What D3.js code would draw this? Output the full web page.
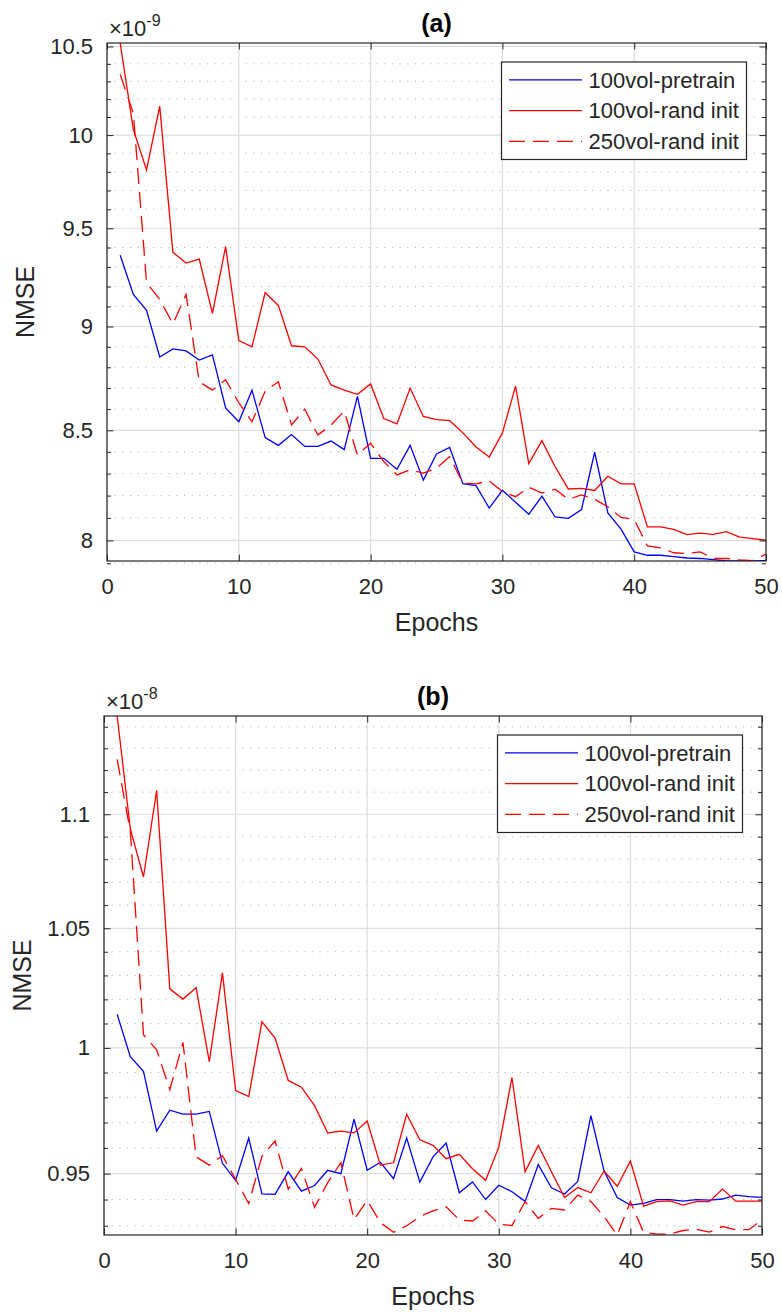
<!DOCTYPE html>
<html>
<head>
<meta charset="utf-8">
<script src="https://cdn.jsdelivr.net/npm/d3@7"></script>
<style>
  body { margin: 0; background: #fff; }
  svg { display: block; font-family: 'Liberation Sans', Arial, sans-serif; }
</style>
</head>
<body>
<div id="chart"></div>
<script>
const epochs = [
  1, 2, 3, 4, 5, 6, 7, 8, 9, 10, 11, 12, 13, 14, 15, 16, 17, 18, 19, 20, 21, 22, 23, 24, 25,
  26, 27, 28, 29, 30, 31, 32, 33, 34, 35, 36, 37, 38, 39, 40, 41, 42, 43, 44, 45, 46, 47, 48, 49, 50,
];
const xTicks = [0, 10, 20, 30, 40, 50];
const seriesNames = ['100vol-pretrain', '100vol-rand init', '250vol-rand init'];

// (a) NMSE, x 1e-9
const pretrainA = [
  9.36, 9.16, 9.08, 8.85, 8.89, 8.88, 8.835, 8.86, 8.605, 8.54,
  8.69, 8.466, 8.43, 8.48, 8.425, 8.425, 8.45, 8.41, 8.66, 8.37,
  8.37, 8.32, 8.43, 8.27, 8.39, 8.42, 8.254, 8.245, 8.144, 8.224,
  8.17, 8.116, 8.197, 8.104, 8.098, 8.137, 8.398, 8.122, 8.05, 7.95,
  7.935, 7.935, 7.929, 7.923, 7.921, 7.916, 7.91, 7.91, 7.91, 7.912,
];
const randInitA = [
  10.52, 10.03, 9.81, 10.16, 9.375, 9.32, 9.34, 9.065, 9.405, 8.93,
  8.9, 9.17, 9.105, 8.905, 8.9, 8.84, 8.715, 8.69, 8.67, 8.72,
  8.555, 8.53, 8.7, 8.565, 8.55, 8.545, 8.488, 8.422, 8.376, 8.488,
  8.709, 8.346, 8.452, 8.331, 8.23, 8.233, 8.223, 8.288, 8.253, 8.253,
  8.06, 8.06, 8.049, 8.026, 8.032, 8.027, 8.039, 8.015, 8.008, 8.001,
];
const randInit250A = [
  10.34, 10.12, 9.22, 9.135, 9.013, 9.16, 8.73, 8.69, 8.74, 8.63,
  8.54, 8.685, 8.73, 8.525, 8.6, 8.478, 8.525, 8.59, 8.385, 8.44,
  8.355, 8.294, 8.317, 8.302, 8.325, 8.378, 8.256, 8.253, 8.267, 8.218,
  8.195, 8.238, 8.211, 8.229, 8.183, 8.203, 8.183, 8.15, 8.102, 8.093,
  7.976, 7.967, 7.946, 7.943, 7.95, 7.921, 7.921, 7.915, 7.912, 7.94,
];
const yTicksA = [8, 8.5, 9, 9.5, 10, 10.5];

// (b) NMSE, x 1e-8
const pretrainB = [
  1.0138, 0.9964, 0.9905, 0.9666, 0.9749, 0.9733, 0.9733, 0.9744, 0.954, 0.9474,
  0.9639, 0.9422, 0.942, 0.9507, 0.9432, 0.9454, 0.9513, 0.95, 0.9713, 0.9513,
  0.9544, 0.948, 0.9639, 0.9467, 0.9565, 0.9619, 0.9426, 0.9468, 0.94, 0.9455,
  0.943, 0.9393, 0.9535, 0.9445, 0.9421, 0.947, 0.9727, 0.951, 0.9408, 0.9379,
  0.9385, 0.94, 0.94, 0.9394, 0.94, 0.9398, 0.9402, 0.9417, 0.9411, 0.9408,
];
const randInitB = [
  1.145, 1.0935, 1.0722, 1.1107, 1.0244, 1.0201, 1.0248, 0.9944, 1.0311, 0.9827,
  0.9803, 1.0107, 1.004, 0.9868, 0.9841, 0.9767, 0.9659, 0.9666, 0.9659, 0.9706,
  0.9533, 0.9542, 0.9733, 0.9632, 0.961, 0.9558, 0.9575, 0.9519, 0.9474, 0.9603,
  0.9879, 0.9507, 0.961, 0.9507, 0.9408, 0.9446, 0.9426, 0.951, 0.9451, 0.9549,
  0.9375, 0.9392, 0.9395, 0.9379, 0.9392, 0.9392, 0.944, 0.9394, 0.9394, 0.9394,
];
const randInit250B = [
  1.1249, 1.0924, 1.0054, 0.9992, 0.9831, 1.0022, 0.9565, 0.9533, 0.957, 0.9478,
  0.9385, 0.9567, 0.9628, 0.944, 0.952, 0.937, 0.9465, 0.9543, 0.9324, 0.9396,
  0.9312, 0.9275, 0.93, 0.9335, 0.9357, 0.9372, 0.9322, 0.9318, 0.9357, 0.9306,
  0.9301, 0.9392, 0.9328, 0.9366, 0.936, 0.9417, 0.9392, 0.9335, 0.9265, 0.9392,
  0.9275, 0.9268, 0.9268, 0.9282, 0.9287, 0.9276, 0.9297, 0.9285, 0.9285, 0.9322,
];
const yTicksB = [0.95, 1, 1.05, 1.1];

const axisColor = '#262626';
const lineStyles = [
  { color: '#0000ff', dash: null },
  { color: '#ff0000', dash: null },
  { color: '#ff0000', dash: '16,8' },
];

const svg = d3
  .select('#chart')
  .append('svg')
  .attr('width', 782)
  .attr('height', 1312);

const styleAxis = (sel, fontSize) => {
  sel.select('.domain').remove();
  sel.selectAll('.tick line').attr('stroke', axisColor).attr('stroke-width', 1);
  sel
    .selectAll('.tick text')
    .attr('fill', axisColor)
    .style('font-size', fontSize + 'px')
    .style('font-family', "'Liberation Sans', Arial, sans-serif");
};

const drawPanel = ({ id, box, title, exponent, series, yTicks, yMinor }) => {
  const g = svg.append('g').attr('id', id);

  const x = d3.scaleLinear().domain([0, 50]).range([box.left, box.right]);
  const y = d3
    .scaleLog()
    .domain(d3.extent(series.flat()))
    .range([box.bottom, box.top]);

  // minor grid (dotted) and major grid
  g.append('g')
    .selectAll('line')
    .data(yMinor)
    .join('line')
    .attr('x1', box.left)
    .attr('x2', box.right)
    .attr('y1', (d) => y(d))
    .attr('y2', (d) => y(d))
    .attr('stroke', '#aaaaaa')
    .attr('stroke-width', 1)
    .attr('stroke-dasharray', '1,6.7');

  g.append('g')
    .selectAll('line')
    .data(yTicks)
    .join('line')
    .attr('x1', box.left)
    .attr('x2', box.right)
    .attr('y1', (d) => y(d))
    .attr('y2', (d) => y(d))
    .attr('stroke', '#dddddd')
    .attr('stroke-width', 1.2);

  g.append('g')
    .selectAll('line')
    .data(xTicks)
    .join('line')
    .attr('x1', (d) => x(d))
    .attr('x2', (d) => x(d))
    .attr('y1', box.top)
    .attr('y2', box.bottom)
    .attr('stroke', '#dddddd')
    .attr('stroke-width', 1.2);

  // data lines
  g.append('clipPath')
    .attr('id', id + '-clip')
    .append('rect')
    .attr('x', box.left)
    .attr('y', box.top)
    .attr('width', box.right - box.left)
    .attr('height', box.bottom - box.top);

  const line = d3
    .line()
    .x((d, i) => x(epochs[i]))
    .y((d) => y(d));

  g.append('g')
    .attr('clip-path', `url(#${id}-clip)`)
    .selectAll('path')
    .data(series)
    .join('path')
    .attr('d', line)
    .attr('fill', 'none')
    .attr('stroke', (d, i) => lineStyles[i].color)
    .attr('stroke-width', 1.3)
    .attr('stroke-dasharray', (d, i) => lineStyles[i].dash);

  // axes, MATLAB style ticks pointing inwards
  g.append('g')
    .attr('transform', `translate(0,${box.bottom})`)
    .call(d3.axisBottom(x).tickValues(xTicks).tickSizeInner(-6.5).tickSizeOuter(0).tickPadding(17))
    .call(styleAxis, 22);
  g.append('g')
    .attr('transform', `translate(0,${box.top})`)
    .call(d3.axisTop(x).tickValues(xTicks).tickSizeInner(-6.5).tickSizeOuter(0).tickFormat(''))
    .call(styleAxis, 22);
  g.append('g')
    .attr('transform', `translate(${box.left},0)`)
    .call(d3.axisLeft(y).tickValues(yTicks).tickFormat((d) => d).tickSizeInner(-6.5).tickSizeOuter(0).tickPadding(14))
    .call(styleAxis, 22);
  g.append('g')
    .attr('transform', `translate(${box.left},0)`)
    .call(d3.axisLeft(y).tickValues(yMinor).tickFormat('').tickSizeInner(-4).tickSizeOuter(0))
    .call(styleAxis, 22);
  g.append('g')
    .attr('transform', `translate(${box.right},0)`)
    .call(d3.axisRight(y).tickValues(yTicks).tickFormat('').tickSizeInner(-6.5).tickSizeOuter(0))
    .call(styleAxis, 22);
  g.append('g')
    .attr('transform', `translate(${box.right},0)`)
    .call(d3.axisRight(y).tickValues(yMinor).tickFormat('').tickSizeInner(-4).tickSizeOuter(0))
    .call(styleAxis, 22);

  g.append('rect')
    .attr('x', box.left)
    .attr('y', box.top)
    .attr('width', box.right - box.left)
    .attr('height', box.bottom - box.top)
    .attr('fill', 'none')
    .attr('stroke', axisColor)
    .attr('stroke-width', 1.2);

  // exponent, title, axis labels
  const expText = g
    .append('text')
    .attr('x', box.left + 2)
    .attr('y', box.top - 7)
    .attr('fill', axisColor)
    .style('font-size', '22px');
  expText.append('tspan').text('×10');
  expText
    .append('tspan')
    .attr('dy', -10)
    .style('font-size', '16px')
    .text(exponent);

  g.append('text')
    .attr('x', (box.left + box.right) / 2)
    .attr('y', box.top - 11)
    .attr('text-anchor', 'middle')
    .attr('fill', '#000')
    .style('font-size', '25px')
    .style('font-weight', 'bold')
    .text(title);

  g.append('text')
    .attr('x', (box.left + box.right) / 2)
    .attr('y', box.bottom + 70)
    .attr('text-anchor', 'middle')
    .attr('fill', axisColor)
    .style('font-size', '25px')
    .text('Epochs');

  g.append('text')
    .attr('transform', `translate(${box.left - 82},${(box.top + box.bottom) / 2}) rotate(-90)`)
    .attr('text-anchor', 'middle')
    .attr('dy', '0.35em')
    .attr('fill', axisColor)
    .style('font-size', '25px')
    .text('NMSE');

  // legend
  const lg = g
    .append('g')
    .attr('transform', `translate(${box.right - 19.5 - 245},${box.top + 19})`);
  lg.append('rect')
    .attr('width', 245)
    .attr('height', 97.5)
    .attr('fill', '#fff')
    .attr('stroke', axisColor)
    .attr('stroke-width', 1.2);
  const rows = lg
    .selectAll('.row')
    .data(seriesNames)
    .join('g')
    .attr('class', 'row')
    .attr('transform', (d, i) => `translate(0,${17.8 + i * 30.8})`);
  rows
    .append('line')
    .attr('x1', 7.5)
    .attr('x2', 80.5)
    .attr('stroke', (d, i) => lineStyles[i].color)
    .attr('stroke-width', 1.3)
    .attr('stroke-dasharray', (d, i) => lineStyles[i].dash);
  rows
    .append('text')
    .attr('x', 87)
    .attr('dy', '0.35em')
    .attr('fill', axisColor)
    .style('font-size', '22px')
    .text((d) => d);
};

const minorA = d3.range(79, 106).map((d) => d / 10).filter((d) => !yTicksA.includes(d));
const minorB = d3.range(93, 115).map((d) => d / 100).filter((d) => !yTicksB.includes(d));

drawPanel({
  id: 'panel-a',
  box: { left: 107, right: 766, top: 43, bottom: 561 },
  title: '(a)',
  exponent: '-9',
  series: [pretrainA, randInitA, randInit250A],
  yTicks: yTicksA,
  yMinor: minorA,
});

drawPanel({
  id: 'panel-b',
  box: { left: 104, right: 762, top: 716, bottom: 1235 },
  title: '(b)',
  exponent: '-8',
  series: [pretrainB, randInitB, randInit250B],
  yTicks: yTicksB,
  yMinor: minorB,
});
</script>
</body>
</html>
